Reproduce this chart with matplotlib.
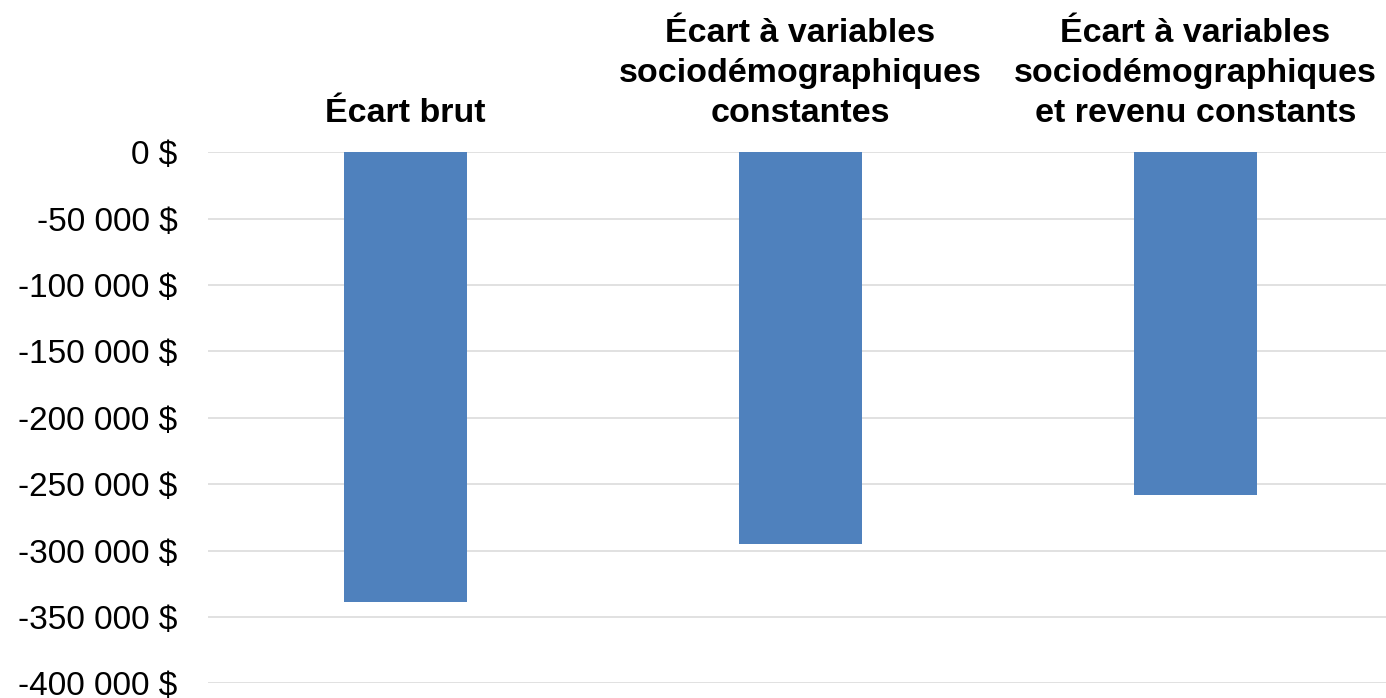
import matplotlib
matplotlib.use('Agg')
import matplotlib.pyplot as plt
from matplotlib.ticker import FuncFormatter

categories = ['Écart brut',
              'Écart à variables\nsociodémographiques\nconstantes',
              'Écart à variables\nsociodémographiques\net revenu constants']
values = [-338600, -295200, -258000]
yticks = list(range(0, -400001, -50000))

plt.rcParams['font.family'] = ['Liberation Sans', 'DejaVu Sans']

W, H = 1386, 698
fig = plt.figure(figsize=(W / 100, H / 100), dpi=100)
# axes spans past the right edge, like the source crop
ax = fig.add_axes([208 / W, (H - 683.3) / H, 1185 / W, (683.3 - 152.3) / H])

x = range(len(categories))
ax.bar(x, values, width=0.312, color='#4F81BD', zorder=3)

ax.set_xlim(-0.5, 2.5)
ax.set_ylim(-400000, 0)
ax.set_yticks(yticks)
ax.yaxis.set_major_formatter(FuncFormatter(lambda v, p: f'{int(v):,} $'.replace(',', ' ')))
ax.yaxis.grid(True, color='#D9D9D9', linewidth=1.1, zorder=0)
ax.tick_params(axis='y', length=0, pad=22, labelsize=24)

ax.xaxis.tick_top()
ax.set_xticks(list(x))
ax.set_xticklabels(categories, fontweight='bold', fontsize=24.5, linespacing=1.37)
ax.tick_params(axis='x', length=0, pad=17)

for s in ax.spines.values():
    s.set_visible(False)

fig.savefig('out.png', dpi=100)
